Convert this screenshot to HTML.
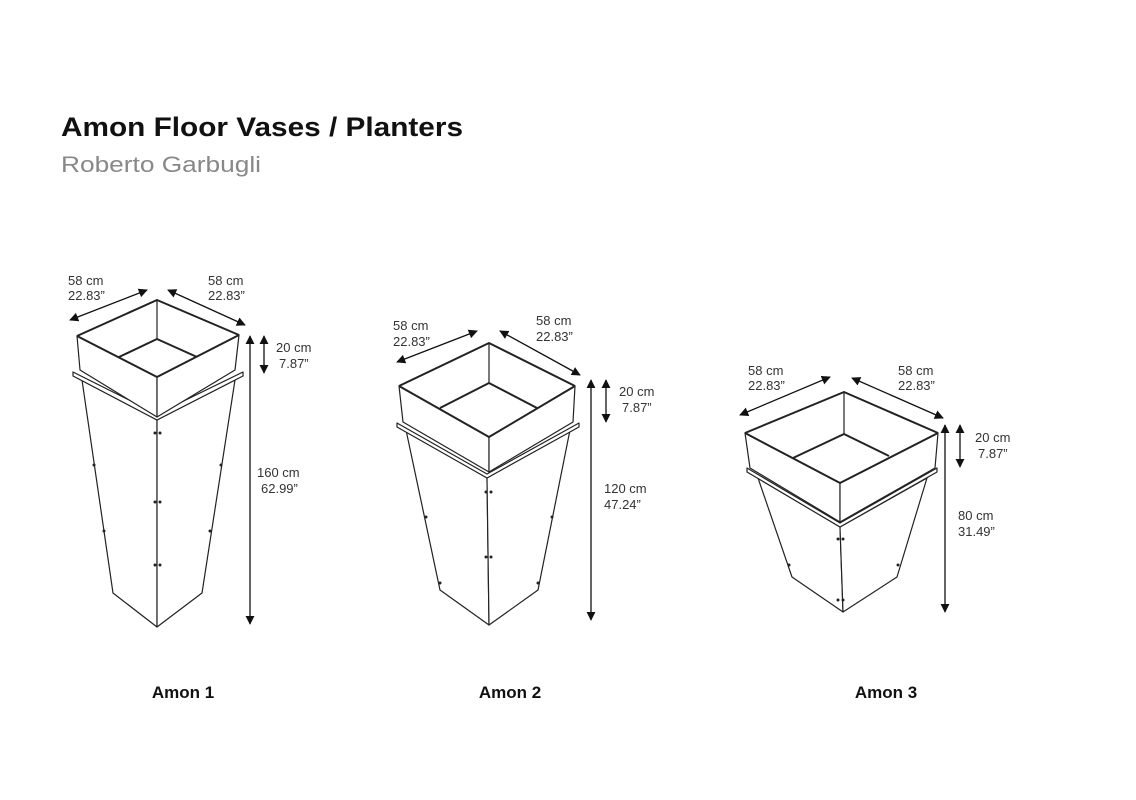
<!DOCTYPE html>
<html><head><meta charset="utf-8"><style>
html,body{margin:0;padding:0;background:#fff;}
svg{display:block;}
text{font-family:"Liberation Sans",sans-serif;}
.d{font-size:13px;fill:#333;}
.l{font-size:17px;font-weight:bold;fill:#111;}
</style></head><body>
<svg width="1136" height="800" viewBox="0 0 1136 800">
<defs>
<marker id="a" viewBox="0 0 10 10" refX="9" refY="5" markerWidth="7" markerHeight="7" orient="auto-start-reverse"><path d="M0,0L10,5L0,10z" fill="#111"/></marker>
</defs>
<text x="61" y="136" textLength="402" lengthAdjust="spacingAndGlyphs" style="font-size:27px;font-weight:bold;fill:#111">Amon Floor Vases / Planters</text>
<text x="61" y="172" textLength="200" lengthAdjust="spacingAndGlyphs" style="font-size:22px;fill:#888">Roberto Garbugli</text>

<g fill="#fff" stroke="#222" stroke-width="1.2" stroke-linejoin="round">
<!-- Amon 1 -->
<polygon points="82,380 157,420 157,627 113,593"/>
<polygon points="235,380 157,420 157,627 202,593"/>
<polygon points="73,372 157,414 243,372 243,376 157,420 73,376"/>
<polygon points="77,336 157,377 157,417 80,370"/>
<polygon points="239,335 157,377 157,417 235,370"/>
<polyline points="77,336 157,300 239,335" fill="none" stroke-width="2"/>
<line x1="157" y1="300" x2="157" y2="339"/>
<polyline points="119,357 157,339 197,357" fill="none" stroke-width="2"/>
<line x1="77" y1="336" x2="157" y2="377" stroke-width="2"/>
<line x1="239" y1="335" x2="157" y2="377" stroke-width="2"/>
<!-- Amon 2 -->
<polygon points="406,430 487,478 489,625 440,590"/>
<polygon points="570,430 487,478 489,625 538,590"/>
<polygon points="397,423 487,474 579,423 579,427 487,478 397,427"/>
<polygon points="399,386 489,437 489,472 403,422"/>
<polygon points="575,386 489,437 489,472 573,422"/>
<polyline points="399,386 489,343 575,386" fill="none" stroke-width="2"/>
<line x1="489" y1="343" x2="489" y2="383"/>
<polyline points="440,408 489,383 537,408" fill="none" stroke-width="2"/>
<line x1="399" y1="386" x2="489" y2="437" stroke-width="2"/>
<line x1="575" y1="386" x2="489" y2="437" stroke-width="2"/>
<!-- Amon 3 -->
<polygon points="758,478 840,527 843,612 792,577"/>
<polygon points="927,478 840,527 843,612 897,577"/>
<polygon points="747,468 840,523 937,468 937,472 840,527 747,472"/>
<polygon points="745,433 840,483 840,522 750,468"/>
<polygon points="938,433 840,483 840,522 935,468"/>
<polyline points="745,433 844,392 938,433" fill="none" stroke-width="2"/>
<line x1="844" y1="392" x2="844" y2="434"/>
<polyline points="793,458 844,434 889,456" fill="none" stroke-width="2"/>
<line x1="745" y1="433" x2="840" y2="483" stroke-width="2"/>
<line x1="938" y1="433" x2="840" y2="483" stroke-width="2"/>
</g>
<g fill="#222">
<circle cx="155" cy="433" r="1.5"/><circle cx="160" cy="433" r="1.5"/>
<circle cx="155" cy="502" r="1.5"/><circle cx="160" cy="502" r="1.5"/>
<circle cx="155" cy="565" r="1.5"/><circle cx="160" cy="565" r="1.5"/>
<circle cx="94" cy="465" r="1.5"/><circle cx="221" cy="465" r="1.5"/>
<circle cx="104" cy="531" r="1.5"/><circle cx="210" cy="531" r="1.5"/>
<circle cx="486" cy="492" r="1.5"/><circle cx="491" cy="492" r="1.5"/>
<circle cx="486" cy="557" r="1.5"/><circle cx="491" cy="557" r="1.5"/>
<circle cx="426" cy="517" r="1.5"/><circle cx="552" cy="517" r="1.5"/>
<circle cx="440" cy="583" r="1.5"/><circle cx="538" cy="583" r="1.5"/>
<circle cx="838" cy="539" r="1.5"/><circle cx="843" cy="539" r="1.5"/>
<circle cx="838" cy="600" r="1.5"/><circle cx="843" cy="600" r="1.5"/>
<circle cx="789" cy="565" r="1.5"/><circle cx="898" cy="565" r="1.5"/>
</g>
<g stroke="#111" stroke-width="1.3" marker-start="url(#a)" marker-end="url(#a)">
<line x1="70" y1="320" x2="147" y2="290"/>
<line x1="168" y1="290" x2="245" y2="325"/>
<line x1="250" y1="336" x2="250" y2="624"/>
<line x1="264" y1="336" x2="264" y2="373"/>
<line x1="397" y1="362" x2="477" y2="331"/>
<line x1="500" y1="331" x2="580" y2="375"/>
<line x1="591" y1="380" x2="591" y2="620"/>
<line x1="606" y1="380" x2="606" y2="422"/>
<line x1="740" y1="415" x2="830" y2="377"/>
<line x1="852" y1="378" x2="943" y2="418"/>
<line x1="945" y1="425" x2="945" y2="612"/>
<line x1="960" y1="425" x2="960" y2="467"/>
</g>
<g class="d">
<text x="68" y="285">58 cm</text><text x="68" y="300">22.83”</text>
<text x="208" y="285">58 cm</text><text x="208" y="300">22.83”</text>
<text x="276" y="352">20 cm</text><text x="279" y="368">7.87”</text>
<text x="257" y="477">160 cm</text><text x="261" y="493">62.99”</text>
<text x="393" y="330">58 cm</text><text x="393" y="346">22.83”</text>
<text x="536" y="325">58 cm</text><text x="536" y="341">22.83”</text>
<text x="619" y="396">20 cm</text><text x="622" y="412">7.87”</text>
<text x="604" y="493">120 cm</text><text x="604" y="509">47.24”</text>
<text x="748" y="375">58 cm</text><text x="748" y="390">22.83”</text>
<text x="898" y="375">58 cm</text><text x="898" y="390">22.83”</text>
<text x="975" y="442">20 cm</text><text x="978" y="458">7.87”</text>
<text x="958" y="520">80 cm</text><text x="958" y="536">31.49”</text>
</g>
<text class="l" x="183" y="698" text-anchor="middle">Amon 1</text>
<text class="l" x="510" y="698" text-anchor="middle">Amon 2</text>
<text class="l" x="886" y="698" text-anchor="middle">Amon 3</text>
</svg>
</body></html>
